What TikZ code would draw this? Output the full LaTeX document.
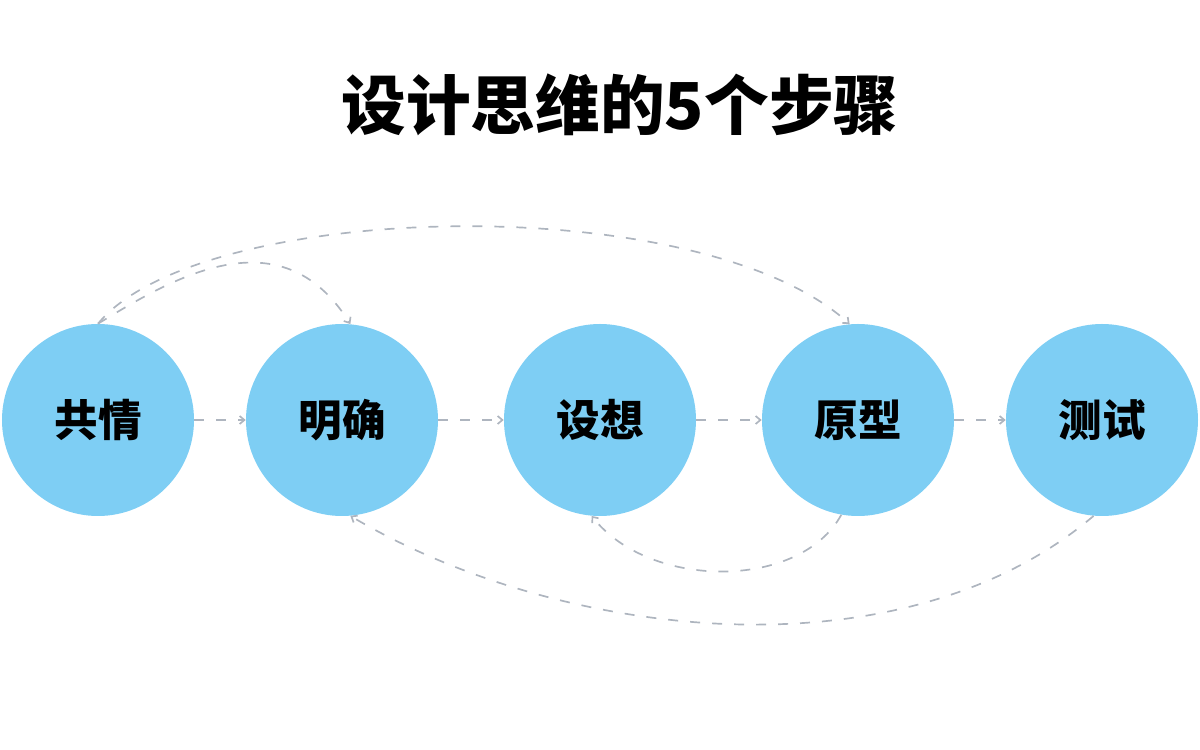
\documentclass[tikz,border=0pt]{standalone}
\usepackage{fontspec}
\newfontfamily\cjk{Noto Sans CJK SC}
\usetikzlibrary{arrows.meta}
\definecolor{stepblue}{HTML}{7ECEF4}
\definecolor{dashgray}{HTML}{AEB5BF}

\begin{document}
\begin{tikzpicture}[x=0.25mm, y=-0.25mm,
            stage/.style={circle, fill=stepblue, minimum size=48mm, inner sep=0pt, font=\cjk\bfseries\fontsize{31}{31}\selectfont},
            arrow/.style={-{Straight Barb[length=1.2mm, width=2mm]}, dashgray, line width=1.2pt, dash pattern=on 2.5mm off 3mm}
        ]
            \useasboundingbox (0,0) rectangle (1200,750);
            \node[font=\cjk\bfseries\fontsize{46}{46}\selectfont] (title) at (620,105) {设计思维的5个步骤};

            \node[stage] (empathy) at (98,420) {共情};
            \node[stage] (define) at (342,420) {明确};
            \node[stage] (ideate) at (600,420) {设想};
            \node[stage] (proto) at (858,420) {原型};
            \node[stage] (test) at (1102,420) {测试};

            \draw[arrow] (empathy) -- (define);
            \draw[arrow] (define) -- (ideate);
            \draw[arrow] (ideate) -- (proto);
            \draw[arrow] (proto) -- (test);

            % Loops above
            \draw[arrow] (empathy.north) .. controls (200,200) and (700,188) .. (proto.95);
            \draw[arrow] (empathy.north) .. controls (170,280) and (280,212) .. (define.85);

            % Loops below
            \draw[arrow] (test.265) .. controls (900,680) and (560,640) .. (define.275);
            \draw[arrow] (proto.260) .. controls (800,590) and (650,590) .. (ideate.265);
        \end{tikzpicture}
\end{document}
